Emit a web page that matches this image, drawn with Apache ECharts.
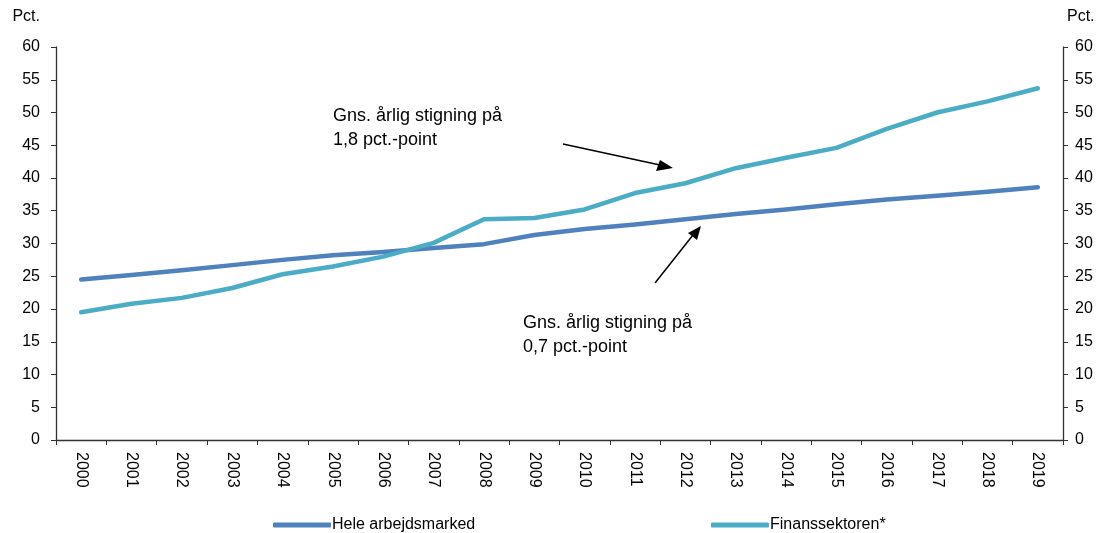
<!DOCTYPE html>
<html style="height: 100%;">
<head>
    <meta charset="utf-8">
    <title>Gns. årlig stigning</title>
    <script src="https://cdn.jsdelivr.net/npm/echarts@6/dist/echarts.min.js"></script>
    <style>
        html, body { height: 100%; margin: 0; padding: 0; background: #fff; }
        #main { width: 1099px; height: 533px; }
    </style>
</head>
<body>
    <div id="main"></div>
    <script type="text/javascript">
        // data
        var years = ['2000', '2001', '2002', '2003', '2004', '2005', '2006', '2007', '2008', '2009',
            '2010', '2011', '2012', '2013', '2014', '2015', '2016', '2017', '2018', '2019'];
        var heleArbejdsmarked = [24.5, 25.2, 25.9, 26.7, 27.5, 28.2, 28.7, 29.3, 29.9, 31.3,
            32.2, 32.9, 33.7, 34.5, 35.2, 36.0, 36.7, 37.3, 37.9, 38.6];
        var finanssektoren = [19.5, 20.8, 21.7, 23.2, 25.3, 26.5, 28.0, 30.1, 33.7, 33.9,
            35.2, 37.7, 39.2, 41.5, 43.1, 44.6, 47.5, 50.0, 51.7, 53.7];
        var yTicks = [0, 5, 10, 15, 20, 25, 30, 35, 40, 45, 50, 55, 60];

        var font = 'Liberation Sans, Arial, sans-serif';
        var myChart = echarts.init(document.getElementById('main'));

        var yAxisBase = {
            type: 'value',
            min: yTicks[0],
            max: yTicks[yTicks.length - 1],
            interval: 5,
            splitLine: { show: false },
            axisLine: { show: true, lineStyle: { color: '#333', width: 1.3 } },
            axisTick: { show: true, length: 5, lineStyle: { color: '#333' } },
            axisLabel: { color: '#000', fontSize: 16, fontFamily: font, margin: 16 },
            name: 'Pct.',
            nameGap: 22,
            nameTextStyle: { color: '#000', fontSize: 16, fontFamily: font }
        };

        var option = {
            animation: false,
            grid: { left: 56, right: 36, top: 47, bottom: 93 },
            legend: [
                {
                    data: ['Hele arbejdsmarked'],
                    left: 268, top: 512,
                    icon: 'roundRect', itemWidth: 58, itemHeight: 5, itemGap: 0,
                    textStyle: { color: '#000', fontSize: 16, fontFamily: font, padding: [0, 0, 0, -4] }
                },
                {
                    data: ['Finanssektoren*'],
                    left: 706, top: 512,
                    icon: 'roundRect', itemWidth: 58, itemHeight: 5, itemGap: 0,
                    textStyle: { color: '#000', fontSize: 16, fontFamily: font, padding: [0, 0, 0, -4] }
                }
            ],
            xAxis: {
                type: 'category',
                data: years,
                boundaryGap: true,
                axisLine: { lineStyle: { color: '#333', width: 1.3 } },
                axisTick: { show: true, length: 5, interval: 0, lineStyle: { color: '#333' } },
                axisLabel: { rotate: -90, color: '#000', fontSize: 16, fontFamily: font, interval: 0, margin: 12 }
            },
            yAxis: [
                Object.assign({}, yAxisBase, { position: 'left', nameTextStyle: Object.assign({}, yAxisBase.nameTextStyle, { align: 'right', padding: [0, 16, 0, 0] }) }),
                Object.assign({}, yAxisBase, { position: 'right', axisLabel: Object.assign({}, yAxisBase.axisLabel, { margin: 12 }), nameTextStyle: Object.assign({}, yAxisBase.nameTextStyle, { align: 'left', padding: [0, 0, 0, 4] }) })
            ],
            series: [
                {
                    name: 'Hele arbejdsmarked',
                    type: 'line',
                    data: heleArbejdsmarked,
                    symbol: 'none',
                    lineStyle: { color: '#4F81BD', width: 4.5, cap: 'round', join: 'round' },
                    itemStyle: { color: '#4F81BD' }
                },
                {
                    name: 'Finanssektoren*',
                    type: 'line',
                    data: finanssektoren,
                    symbol: 'none',
                    lineStyle: { color: '#4BACC6', width: 4.5, cap: 'round', join: 'round' },
                    itemStyle: { color: '#4BACC6' }
                }
            ],
            graphic: [
                {
                    type: 'text', left: 333, top: 104,
                    style: { text: 'Gns. årlig stigning på\n1,8 pct.-point', fill: '#000', font: '18px ' + font, lineHeight: 24 }
                },
                {
                    type: 'text', left: 523, top: 311,
                    style: { text: 'Gns. årlig stigning på\n0,7 pct.-point', fill: '#000', font: '18px ' + font, lineHeight: 24 }
                },
                { type: 'line', shape: { x1: 563, y1: 144, x2: 660, y2: 165 }, style: { stroke: '#000', lineWidth: 1.5 } },
                { type: 'polygon', shape: { points: [[673, 168], [656, 171], [660, 160]] }, style: { fill: '#000' } },
                { type: 'line', shape: { x1: 655, y1: 283, x2: 693, y2: 235 }, style: { stroke: '#000', lineWidth: 1.5 } },
                { type: 'polygon', shape: { points: [[701, 226], [697, 240], [688, 233]] }, style: { fill: '#000' } }
            ]
        };

        myChart.setOption(option);
    </script>
</body>
</html>
